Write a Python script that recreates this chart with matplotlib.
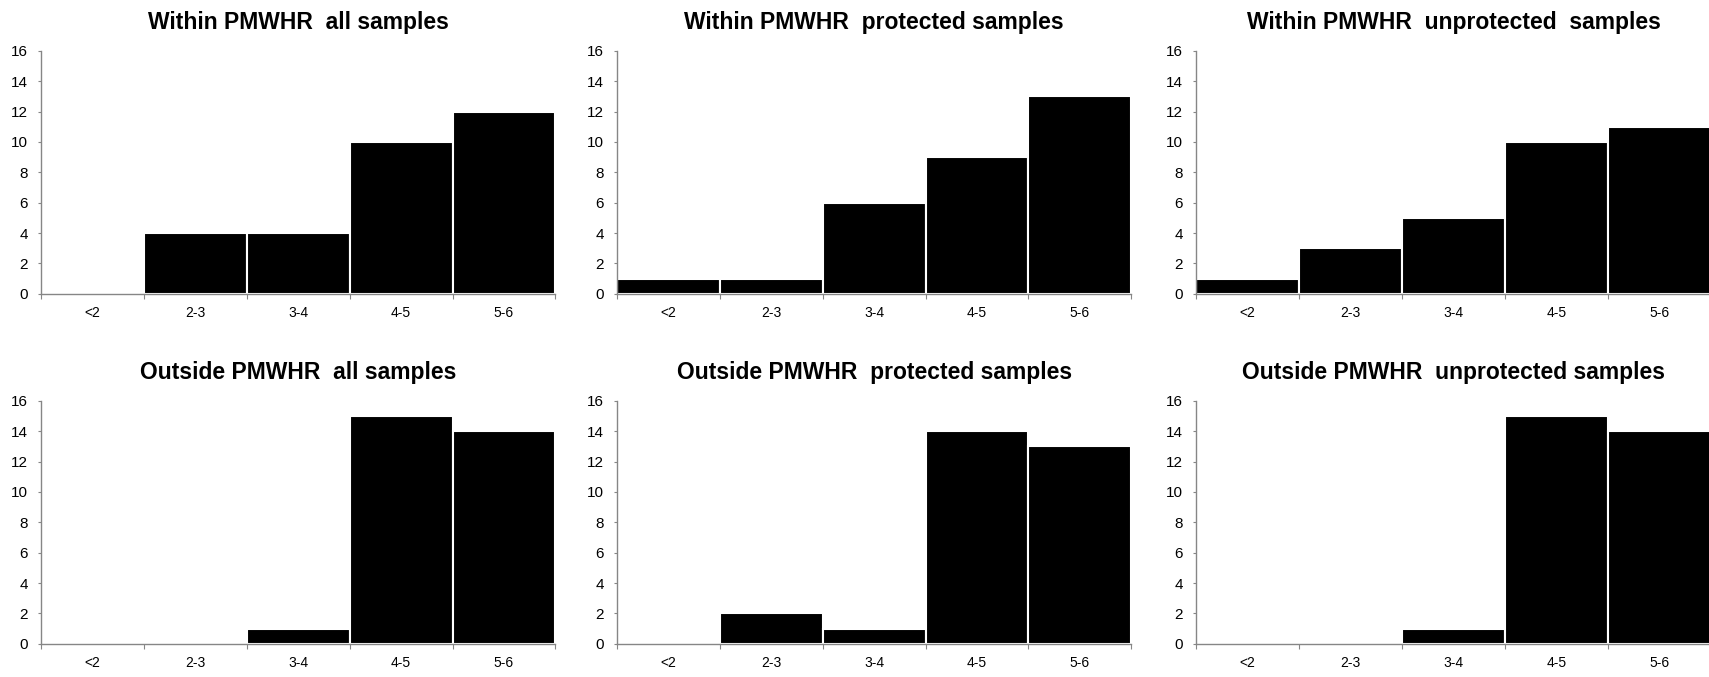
import matplotlib
matplotlib.use("Agg")
import matplotlib.pyplot as plt

plt.rcParams['font.family'] = ['Liberation Sans', 'DejaVu Sans']

categories = ["<2", "2-3", "3-4", "4-5", "5-6"]

titles = [
    "Within PMWHR  all samples",
    "Within PMWHR  protected samples",
    "Within PMWHR  unprotected  samples",
    "Outside PMWHR  all samples",
    "Outside PMWHR  protected samples",
    "Outside PMWHR  unprotected samples",
]

within_all = [0, 4, 4, 10, 12]
within_protected = [1, 1, 6, 9, 13]
within_unprotected = [1, 3, 5, 10, 11]
outside_all = [0, 0, 1, 15, 14]
outside_protected = [0, 2, 1, 14, 13]
outside_unprotected = [0, 0, 1, 15, 14]

series = [within_all, within_protected, within_unprotected,
          outside_all, outside_protected, outside_unprotected]

fig = plt.figure(figsize=(17.09, 6.77), dpi=100)

lefts = [0.024, 0.361, 0.700]
bottoms = [0.566, 0.049]
w, h = 0.301, 0.359
axis_gray = "#868686"

for i, (title, vals) in enumerate(zip(titles, series)):
    ax = fig.add_axes([lefts[i % 3], bottoms[i // 3], w, h])
    x = [k + 0.5 for k in range(len(categories))]
    ax.bar(x, vals, width=1.0, color="black", edgecolor="white", linewidth=1.5)
    ax.set_xlim(0, 5)
    ax.set_ylim(0, 16)
    ax.set_yticks(range(0, 17, 2))
    ax.set_xticks(range(0, 6))
    ax.set_xticklabels([])
    ax.set_xticks(x, minor=True)
    ax.set_xticklabels(categories, minor=True, fontsize=10)
    ax.tick_params(axis="x", which="minor", length=0, pad=9)
    ax.tick_params(axis="x", which="major", length=3.5, color=axis_gray, direction="out")
    ax.tick_params(axis="y", length=2.5, color=axis_gray, labelsize=11, pad=7)
    for s in ["top", "right"]:
        ax.spines[s].set_visible(False)
    for s in ["left", "bottom"]:
        ax.spines[s].set_color(axis_gray)
        ax.spines[s].set_linewidth(1.0)
    ax.set_title(title, fontsize=16.5, fontweight="bold", pad=16)

fig.savefig("out.png", dpi=100)
